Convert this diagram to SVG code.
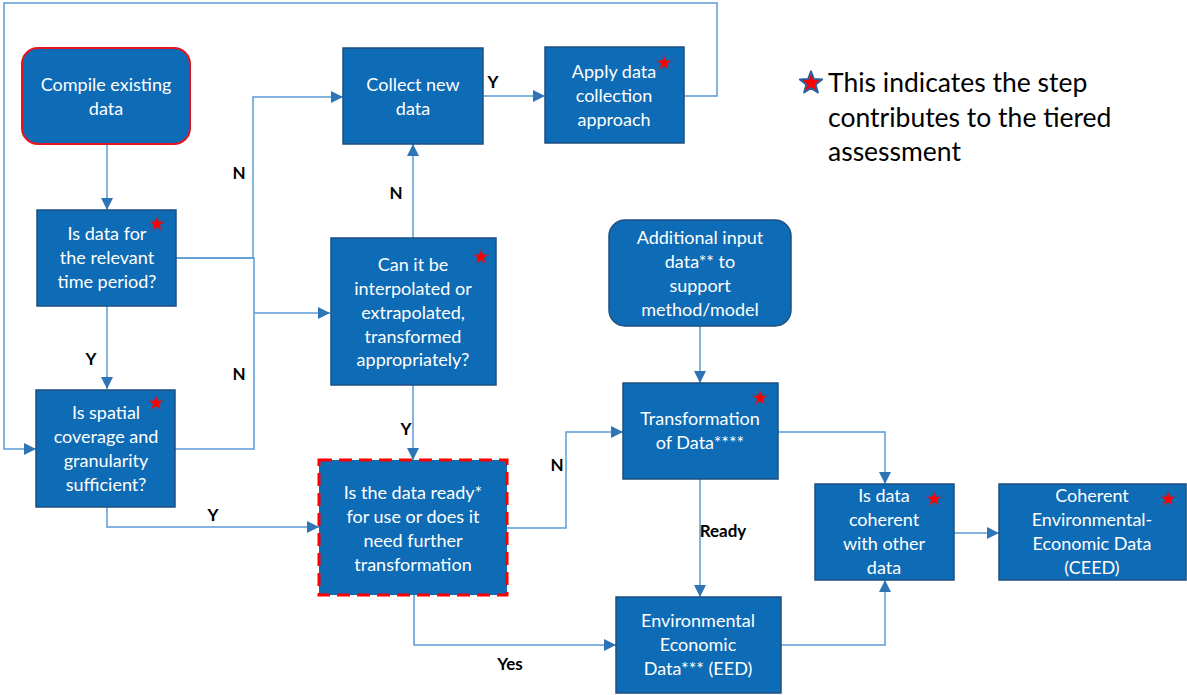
<svg xmlns="http://www.w3.org/2000/svg" xmlns:xlink="http://www.w3.org/1999/xlink" width="1187" height="695" viewBox="0 0 1187 695">
<style>
.box{fill:#0e6bb5;stroke:#1d4f80;stroke-width:1.5}
.t{font-family:Lato,"Open Sans","Liberation Sans",sans-serif;font-size:18px;fill:#ffffff;text-anchor:middle}
.lbl{font-family:Lato,"Open Sans","Liberation Sans",sans-serif;font-size:17px;font-weight:bold;fill:#000000;text-anchor:middle}
.leg{font-family:Lato,"Open Sans","Liberation Sans",sans-serif;font-size:26.5px;fill:#000000}
.c{fill:none;stroke:#5b9bd5;stroke-width:1.5;marker-end:url(#ah)}
.cn{fill:none;stroke:#5b9bd5;stroke-width:1.5}
.star{fill:#ff0000;stroke:#2e5f9a;stroke-width:1.5;stroke-linejoin:round}
</style>
<defs>
<marker id="ah" markerUnits="userSpaceOnUse" markerWidth="12" markerHeight="12" viewBox="0 0 12 12" refX="12" refY="6" orient="auto">
<path d="M0 0 L12 6 L0 12 Z" fill="#2e75b6"/>
</marker>
<path id="star" class="star" d="M0 -9 L2.23 -3.07 L8.56 -2.78 L3.61 1.17 L5.29 7.28 L0 3.8 L-5.29 7.28 L-3.61 1.17 L-8.56 -2.78 L-2.23 -3.07 Z"/>
</defs>
<rect width="1187" height="695" fill="#ffffff"/>
<g id="connectors">
<path class="c" d="M107 144 V210"/>
<path class="c" d="M176 258 H253 V97 H343"/>
<path class="cn" d="M176 258 H254 V313"/>
<path class="c" d="M175 449 H254 V313 H330"/>
<path class="c" d="M107 306 V389"/>
<path class="c" d="M107 507 V527 H319"/>
<path class="c" d="M483 96 H545"/>
<path class="c" d="M684 96 H717 V3 H4 V449 H36"/>
<path class="c" d="M413 238 V144"/>
<path class="c" d="M413 385 V460"/>
<path class="c" d="M507 528 H566 V432 H623"/>
<path class="c" d="M414 595 V645 H616"/>
<path class="c" d="M700 326 V383"/>
<path class="c" d="M700 479 V597"/>
<path class="c" d="M778 432 H885 V484"/>
<path class="c" d="M781 645 H885 V580"/>
<path class="c" d="M954 533 H999"/>
</g>
<g id="labels">
<text class="lbl" x="239" y="179">N</text>
<text class="lbl" x="239" y="380">N</text>
<text class="lbl" x="91" y="365">Y</text>
<text class="lbl" x="213" y="521">Y</text>
<text class="lbl" x="493" y="88">Y</text>
<text class="lbl" x="396" y="199">N</text>
<text class="lbl" x="406" y="435">Y</text>
<text class="lbl" x="557" y="471">N</text>
<text class="lbl" x="510" y="670">Yes</text>
<text class="lbl" x="723" y="537">Ready</text>
</g>
<g id="compile">
<rect x="22" y="48" width="168" height="96" rx="16" fill="#0e6bb5" stroke="#e8141c" stroke-width="2"/>
<text class="t" x="106" y="91">Compile existing</text>
<text class="t" x="106" y="115">data</text>
</g>
<g id="time">
<rect class="box" x="37" y="210" width="139" height="96"/>
<text class="t" x="107" y="240">Is data for</text>
<text class="t" x="107" y="264">the relevant</text>
<text class="t" x="107" y="288">time period?</text>
<use xlink:href="#star" x="157" y="224"/>
</g>
<g id="spatial">
<rect class="box" x="36" y="390" width="139" height="117"/>
<text class="t" x="106" y="419">Is spatial</text>
<text class="t" x="106" y="443">coverage and</text>
<text class="t" x="106" y="467">granularity</text>
<text class="t" x="106" y="491">sufficient?</text>
<use xlink:href="#star" x="156" y="403"/>
</g>
<g id="collect">
<rect class="box" x="343" y="48" width="140" height="96"/>
<text class="t" x="413" y="91">Collect new</text>
<text class="t" x="413" y="115">data</text>
</g>
<g id="apply">
<rect class="box" x="545" y="47" width="139" height="96"/>
<text class="t" x="614" y="78">Apply data</text>
<text class="t" x="614" y="102">collection</text>
<text class="t" x="614" y="126">approach</text>
<use xlink:href="#star" x="664" y="63"/>
</g>
<g id="canit">
<rect class="box" x="331" y="238" width="165" height="147"/>
<text class="t" x="413" y="271">Can it be</text>
<text class="t" x="413" y="295">interpolated or</text>
<text class="t" x="413" y="319">extrapolated,</text>
<text class="t" x="413" y="343">transformed</text>
<text class="t" x="413" y="366">appropriately?</text>
<use xlink:href="#star" x="481" y="257"/>
</g>
<g id="ready">
<rect x="319" y="460" width="188" height="135" fill="#0e6bb5" stroke="#ff0000" stroke-width="3" stroke-dasharray="13 7"/>
<text class="t" x="413" y="499">Is the data ready*</text>
<text class="t" x="413" y="523">for use or does it</text>
<text class="t" x="413" y="547">need further</text>
<text class="t" x="413" y="571">transformation</text>
</g>
<g id="additional">
<rect class="box" x="609" y="220" width="182" height="106" rx="16"/>
<text class="t" x="700" y="244">Additional input</text>
<text class="t" x="700" y="268">data** to</text>
<text class="t" x="700" y="292">support</text>
<text class="t" x="700" y="316">method/model</text>
</g>
<g id="transformation">
<rect class="box" x="623" y="383" width="155" height="96"/>
<text class="t" x="700" y="425">Transformation</text>
<text class="t" x="700" y="449">of Data****</text>
<use xlink:href="#star" x="760" y="398"/>
</g>
<g id="eed">
<rect class="box" x="616" y="597" width="165" height="96"/>
<text class="t" x="698" y="627">Environmental</text>
<text class="t" x="698" y="651">Economic</text>
<text class="t" x="698" y="675">Data*** (EED)</text>
</g>
<g id="coherent">
<rect class="box" x="815" y="484" width="139" height="96"/>
<text class="t" x="884" y="502">Is data</text>
<text class="t" x="884" y="526">coherent</text>
<text class="t" x="884" y="550">with other</text>
<text class="t" x="884" y="574">data</text>
<use xlink:href="#star" x="934" y="499"/>
</g>
<g id="ceed">
<rect class="box" x="999" y="484" width="187" height="96"/>
<text class="t" x="1092" y="502">Coherent</text>
<text class="t" x="1092" y="526">Environmental-</text>
<text class="t" x="1092" y="550">Economic Data</text>
<text class="t" x="1092" y="574">(CEED)</text>
<use xlink:href="#star" x="1168" y="499"/>
</g>
<g id="legend">
<use xlink:href="#star" transform="translate(811 83) scale(1.3)"/>
<text class="leg" x="828" y="92">This indicates the step</text>
<text class="leg" x="828" y="127">contributes to the tiered</text>
<text class="leg" x="828" y="161">assessment</text>
</g>
</svg>
